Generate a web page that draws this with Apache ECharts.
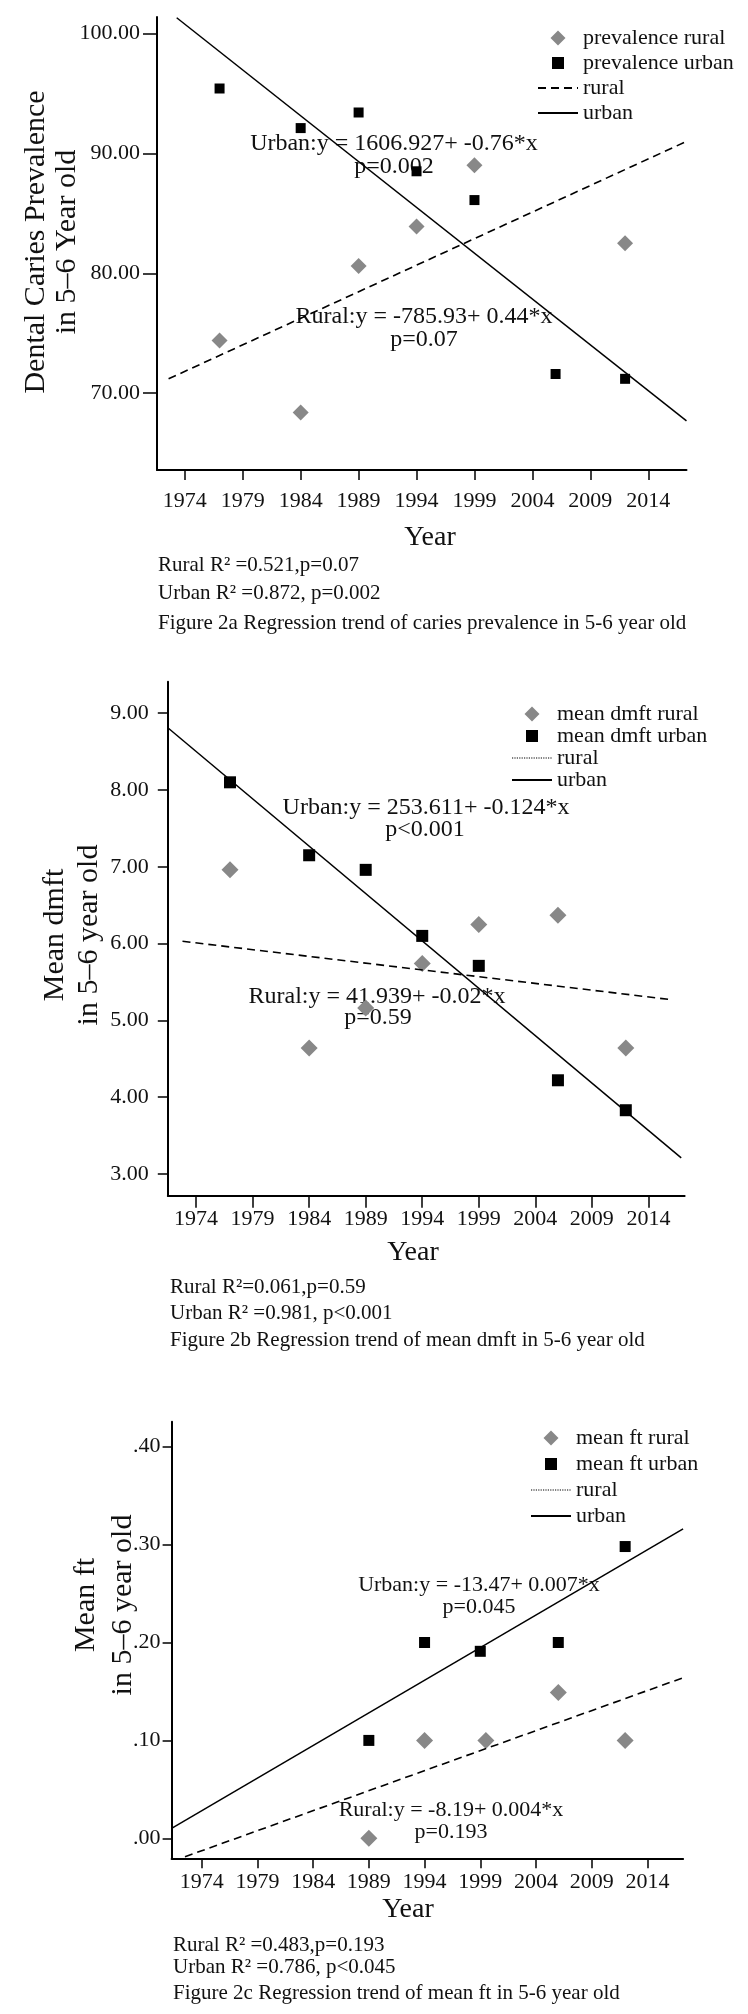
<!DOCTYPE html>
<html>
<head>
<meta charset="utf-8">
<title>Regression trends in 5-6 year old</title>
<script src="https://cdn.jsdelivr.net/npm/echarts@6/dist/echarts.min.js"></script>
<style>
  html, body { margin: 0; padding: 0; background: #fff; }
  #chart { width: 748px; height: 2014px; }
</style>
</head>
<body>
<div id="chart"></div>
<script>
// x ticks shared by the three panels
const yearTicks = [1974, 1979, 1984, 1989, 1994, 1999, 2004, 2009, 2014];

// Figure 2a - caries prevalence
const prevRuralYears = [1977, 1984, 1989, 1994, 1999, 2012];
const prevRural = [74.4, 68.4, 80.6, 83.9, 89.0, 82.5];
const prevUrbanYears = [1977, 1984, 1989, 1994, 1999, 2006, 2012];
const prevUrban = [95.4, 92.1, 93.4, 88.5, 86.1, 71.6, 71.2];
const prevRuralFitYears = [1972.6, 2017.1];
const prevRuralFit = [71.2, 90.9];
const prevUrbanFitYears = [1973.3, 2017.3];
const prevUrbanFit = [101.3, 67.7];
const prevTicks = [70, 80, 90, 100];

// Figure 2b - mean dmft
const dmftRuralYears = [1977, 1984, 1989, 1994, 1999, 2006, 2012];
const dmftRural = [6.96, 4.64, 5.16, 5.74, 6.25, 6.37, 4.64];
const dmftUrbanYears = [1977, 1984, 1989, 1994, 1999, 2006, 2012];
const dmftUrban = [8.10, 7.15, 6.96, 6.10, 5.71, 4.22, 3.83];
const dmftRuralFitYears = [1972.8, 2016.0];
const dmftRuralFit = [6.03, 5.27];
const dmftUrbanFitYears = [1971.5, 2016.9];
const dmftUrbanFit = [8.81, 3.21];
const dmftTicks = [3, 4, 5, 6, 7, 8, 9];

// Figure 2c - mean ft
const ftRuralYears = [1989, 1994, 1999.5, 2006, 2012];
const ftRural = [0.00, 0.10, 0.10, 0.149, 0.10];
const ftUrbanYears = [1989, 1994, 1999, 2006, 2012];
const ftUrban = [0.10, 0.20, 0.191, 0.20, 0.298];
const ftRuralFitYears = [1972.5, 2017.2];
const ftRuralFit = [-0.0188, 0.164];
const ftUrbanFitYears = [1971.3, 2017.2];
const ftUrbanFit = [0.0102, 0.316];
const ftTicks = [0, 0.1, 0.2, 0.3, 0.4];

const FONT = '"Liberation Serif", "Times New Roman", "DejaVu Serif", serif';
const GRAY = '#888888';
// legend icons as paths so they keep their shape inside the 40px icon box
const ICON_DIAMOND = 'path://M7.5,0L15,7.5L7.5,15L0,7.5Z';
const ICON_SQUARE = 'path://M0,0M15,15M1.5,1.5h12v12h-12z';

function pairs(xs, ys) {
  return xs.map((x, i) => [x, ys[i]]);
}

function xAxis(i, min, max, margin, tickLen) {
  return {
    type: 'value', gridIndex: i, min: min, max: max,
    axisLine: { onZero: false, lineStyle: { color: '#000', width: 2 } },
    axisTick: { customValues: yearTicks, length: tickLen, lineStyle: { color: '#000', width: 1.5 } },
    axisLabel: { customValues: yearTicks, margin: margin, color: '#111', fontFamily: FONT, fontSize: 22,
      formatter: v => String(v) },
    splitLine: { show: false }
  };
}

function yAxis(i, min, max, ticks, margin, tickLen, fmt) {
  return {
    type: 'value', gridIndex: i, min: min, max: max,
    axisLine: { onZero: false, lineStyle: { color: '#000', width: 2 } },
    axisTick: { customValues: ticks, length: tickLen, lineStyle: { color: '#000', width: 1.5 } },
    axisLabel: { customValues: ticks, margin: margin, color: '#111', fontFamily: FONT, fontSize: 22, formatter: fmt },
    splitLine: { show: false }
  };
}

function panel(i, tag, label, d) {
  return [
    { name: label + ' rural|' + tag, type: 'scatter', xAxisIndex: i, yAxisIndex: i,
      symbol: 'diamond', symbolSize: d.diamond, itemStyle: { color: GRAY, opacity: 1 },
      data: pairs(d.ruralYears, d.rural) },
    { name: label + ' urban|' + tag, type: 'scatter', xAxisIndex: i, yAxisIndex: i,
      symbol: 'rect', symbolSize: d.square, itemStyle: { color: '#000', opacity: 1 },
      data: pairs(d.urbanYears, d.urban) },
    { name: 'rural|' + tag, type: 'line', xAxisIndex: i, yAxisIndex: i, symbol: 'none',
      lineStyle: { color: '#000', width: 1.6, type: [8, 5] }, data: pairs(d.ruralFitYears, d.ruralFit) },
    { name: 'urban|' + tag, type: 'line', xAxisIndex: i, yAxisIndex: i, symbol: 'none',
      lineStyle: { color: '#000', width: 1.5 }, data: pairs(d.urbanFitYears, d.urbanFit) }
  ];
}

function legend(tag, label, left, top, gap, dotted) {
  const ruralLine = { name: 'rural|' + tag, itemStyle: { opacity: 0 } };
  if (dotted) ruralLine.lineStyle = { type: 'dotted', width: 1.2 };
  return {
    orient: 'vertical', left: left, top: top, itemGap: gap,
    itemWidth: 40, itemHeight: 15, selectedMode: false,
    textStyle: { fontFamily: FONT, fontSize: 22, color: '#111' },
    formatter: n => n.split('|')[0],
    data: [
      { name: label + ' rural|' + tag, icon: ICON_DIAMOND },
      { name: label + ' urban|' + tag, icon: ICON_SQUARE },
      ruralLine,
      { name: 'urban|' + tag, itemStyle: { opacity: 0 } }
    ]
  };
}

function txt(x, y, text, size, align) {
  return { type: 'text', x: x, y: y, silent: true,
    style: { text: text, font: size + 'px ' + FONT, fill: '#111',
      align: align || 'center', textAlign: align || 'center', verticalAlign: 'middle', textVerticalAlign: 'middle' } };
}

function vtxt(x, y, text, size) {
  const t = txt(x, y, text, size);
  t.rotation = Math.PI / 2;
  return t;
}

const fmt2 = v => v.toFixed(2);
const fmtFt = v => v.toFixed(2).replace(/^0/, '');

const option = {
  animation: false,
  grid: [
    { left: 157, top: 17, width: 529.5, height: 453 },
    { left: 167.8, top: 681.7, width: 516.8, height: 514 },
    { left: 171.6, top: 1421.7, width: 511.5, height: 436.6 }
  ],
  xAxis: [
    xAxis(0, 1971.6, 2017.3, 20, 10),
    xAxis(1, 1971.5, 2017.2, 13, 12),
    xAxis(2, 1971.3, 2017.2, 13, 10)
  ],
  yAxis: [
    yAxis(0, 63.6, 101.36, prevTicks, 17, 14, fmt2),
    yAxis(1, 2.717, 9.41, dmftTicks, 19, 10, fmt2),
    yAxis(2, -0.0204, 0.4255, ftTicks, 11, 9, fmtFt)
  ],
  legend: [
    legend('2a', 'prevalence', 532, 22, 3, false),
    legend('2b', 'mean dmft', 506, 698, 0, true),
    legend('2c', 'mean ft', 525, 1422, 4, true)
  ],
  series: [].concat(
    panel(0, '2a', 'prevalence', {
      ruralYears: prevRuralYears, rural: prevRural, urbanYears: prevUrbanYears, urban: prevUrban,
      ruralFitYears: prevRuralFitYears, ruralFit: prevRuralFit, urbanFitYears: prevUrbanFitYears, urbanFit: prevUrbanFit,
      diamond: 16, square: 10 }),
    panel(1, '2b', 'mean dmft', {
      ruralYears: dmftRuralYears, rural: dmftRural, urbanYears: dmftUrbanYears, urban: dmftUrban,
      ruralFitYears: dmftRuralFitYears, ruralFit: dmftRuralFit, urbanFitYears: dmftUrbanFitYears, urbanFit: dmftUrbanFit,
      diamond: 17, square: 12 }),
    panel(2, '2c', 'mean ft', {
      ruralYears: ftRuralYears, rural: ftRural, urbanYears: ftUrbanYears, urban: ftUrban,
      ruralFitYears: ftRuralFitYears, ruralFit: ftRuralFit, urbanFitYears: ftUrbanFitYears, urbanFit: ftUrbanFit,
      diamond: 17, square: 11 })
  ),
  graphic: [
    // 2a
    vtxt(36, 242, 'Dental Caries Prevalence', 30),
    vtxt(67, 242, 'in 5–6 Year old', 30),
    txt(394, 144, 'Urban:y = 1606.927+ -0.76*x', 24),
    txt(394, 167, 'p=0.002', 24),
    txt(424, 317, 'Rural:y = -785.93+ 0.44*x', 24),
    txt(424, 340, 'p=0.07', 24),
    txt(430, 538, 'Year', 28),
    txt(158, 565, 'Rural R² =0.521,p=0.07', 21, 'left'),
    txt(158, 593, 'Urban R² =0.872, p=0.002', 21, 'left'),
    txt(158, 623, 'Figure 2a Regression trend of caries prevalence in 5-6 year old', 21, 'left'),
    // 2b
    vtxt(55, 935, 'Mean dmft', 30),
    vtxt(89, 935, 'in 5–6 year old', 30),
    txt(426, 808, 'Urban:y = 253.611+ -0.124*x', 24),
    txt(425, 830, 'p<0.001', 24),
    txt(377, 997, 'Rural:y = 41.939+ -0.02*x', 24),
    txt(378, 1018, 'p=0.59', 24),
    txt(413, 1253, 'Year', 28),
    txt(170, 1287, 'Rural R²=0.061,p=0.59', 21, 'left'),
    txt(170, 1313, 'Urban R² =0.981, p<0.001', 21, 'left'),
    txt(170, 1340, 'Figure 2b Regression trend of mean dmft in 5-6 year old', 21, 'left'),
    // 2c
    vtxt(86, 1605, 'Mean ft', 30),
    vtxt(123, 1605, 'in 5–6 year old', 30),
    txt(479, 1585, 'Urban:y = -13.47+ 0.007*x', 22),
    txt(479, 1607, 'p=0.045', 22),
    txt(451, 1810, 'Rural:y = -8.19+ 0.004*x', 22),
    txt(451, 1832, 'p=0.193', 22),
    txt(408, 1910, 'Year', 28),
    txt(173, 1945, 'Rural R² =0.483,p=0.193', 21, 'left'),
    txt(173, 1967, 'Urban R² =0.786, p<0.045', 21, 'left'),
    txt(173, 1993, 'Figure 2c Regression trend of mean ft in 5-6 year old', 21, 'left')
  ]
};

const chart = echarts.init(document.getElementById('chart'));
chart.setOption(option);
</script>
</body>
</html>
